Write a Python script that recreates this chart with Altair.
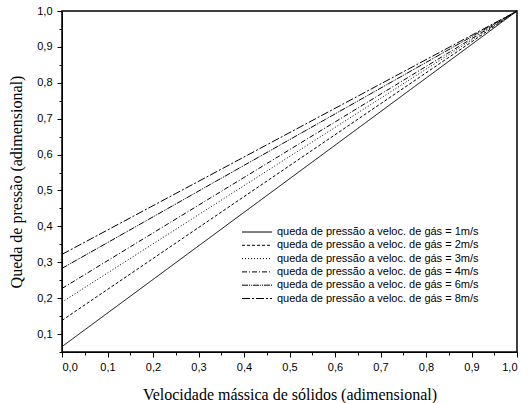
import altair as alt
import pandas as pd

series = ["queda de pressão a veloc. de gás = 1m/s",
          "queda de pressão a veloc. de gás = 2m/s",
          "queda de pressão a veloc. de gás = 3m/s",
          "queda de pressão a veloc. de gás = 4m/s",
          "queda de pressão a veloc. de gás = 6m/s",
          "queda de pressão a veloc. de gás = 8m/s"]
x_vals = [0.0, 1.0]
y_start = [0.065, 0.138, 0.189, 0.227, 0.283, 0.322]
y_end = [1.0, 1.0, 1.0, 1.0, 1.0, 1.0]
dashes = [[1, 0], [3, 2], [1, 2], [5, 2, 1, 2], [6, 1, 1, 1, 1, 1], [8, 2, 2, 2]]

rows = []
for s, a, b in zip(series, y_start, y_end):
    rows.append({"serie": s, "x": x_vals[0], "y": a})
    rows.append({"serie": s, "x": x_vals[1], "y": b})
df = pd.DataFrame(rows)
leg = pd.DataFrame({"serie": series})

major = [round(i * 0.1, 1) for i in range(11)]
minor_x = [round(0.05 + i * 0.1, 2) for i in range(10)]
major_y = [round(0.1 + i * 0.1, 1) for i in range(10)]
minor_y = [round(0.05 + i * 0.1, 2) for i in range(10)]

lab = "replace(format(datum.value, '.1f'), '.', ',')"
tickfont = "Liberation Sans"
titlefont = "Liberation Serif"

xs = alt.Scale(domain=[0, 1], nice=False, zero=False)
ys = alt.Scale(domain=[0.05, 1.0], nice=False, zero=False)
dash_scale = alt.Scale(domain=series, range=dashes)

lines = alt.Chart(df).mark_line(color="black", strokeWidth=1).encode(
    x=alt.X("x:Q", scale=xs, axis=alt.Axis(
        values=major, labelExpr=lab, title="Velocidade mássica de sólidos (adimensional)",
        orient="bottom", grid=False, tickSize=5, tickColor="black", domainColor="black",
        labelFont=tickfont, labelFontSize=11, labelColor="black", labelPadding=4,
        titleFont=titlefont, titleFontSize=16, titleFontWeight="normal", titleColor="black",
        titlePadding=14)),
    y=alt.Y("y:Q", scale=ys, axis=alt.Axis(
        values=major_y + [1.0], labelExpr=lab, title="Queda de pressão (adimensional)",
        orient="left", grid=False, tickSize=5, tickColor="black", domainColor="black",
        labelFont=tickfont, labelFontSize=11, labelColor="black", labelPadding=5,
        titleFont=titlefont, titleFontSize=16, titleFontWeight="normal", titleColor="black",
        titlePadding=12)),
    strokeDash=alt.StrokeDash("serie:N", scale=dash_scale, legend=None),
    detail="serie:N",
)

minor = alt.Chart(df).mark_point(opacity=0).encode(
    x=alt.X("x:Q", scale=xs, axis=alt.Axis(values=minor_x, labels=False, title=None,
        orient="bottom", grid=False, tickSize=3, tickColor="black", domain=False)),
    y=alt.Y("y:Q", scale=ys, axis=alt.Axis(values=minor_y, labels=False, title=None,
        orient="left", grid=False, tickSize=3, tickColor="black", domain=False)),
)

leg_y = alt.Y("serie:N", sort=series,
              scale=alt.Scale(type="point", domain=series, range=[221, 287.5], padding=0),
              axis=None)

leg_rule = alt.Chart(leg).mark_rule(color="black", strokeWidth=1).encode(
    x=alt.value(180), x2=alt.value(210), y=leg_y,
    strokeDash=alt.StrokeDash("serie:N", scale=dash_scale, legend=None),
)
leg_text = alt.Chart(leg).mark_text(
    align="left", baseline="middle", font=tickfont, fontSize=11, color="black"
).encode(x=alt.value(215), y=leg_y, text="serie:N")

chart = alt.layer(lines, minor, leg_rule, leg_text).resolve_axis(
    x="independent", y="independent"
).resolve_scale(y="independent").properties(
    width=455, height=341,
    autosize=alt.AutoSizeParams(type="none"),
    padding={"left": 62, "top": 11, "right": 13, "bottom": 51},
    background="white",
).configure_view(stroke="black", strokeWidth=1.5)

chart.save("out.html", embed_options={"renderer": "svg", "actions": False})
